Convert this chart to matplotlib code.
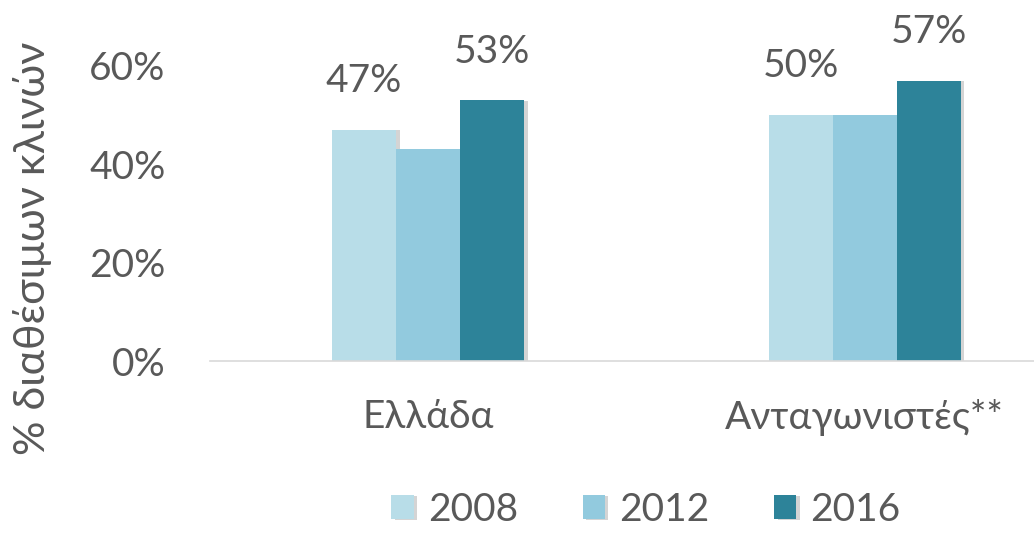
import numpy as np
import matplotlib.pyplot as plt
import matplotlib.patheffects as pe
from matplotlib.ticker import PercentFormatter

plt.rcParams['font.family'] = ['Lato', 'DejaVu Sans']

# bed occupancy share by region and year
categories = ["Ελλάδα", "Ανταγωνιστές**"]
years = ["2008", "2012", "2016"]
share_2008 = [0.47, 0.50]
share_2012 = [0.43, 0.50]
share_2016 = [0.53, 0.57]
# which bars carry a value label
show_label_2008 = [True, True]
show_label_2012 = [False, False]
show_label_2016 = [True, True]

colors = ["#b8dde8", "#92cade", "#2d8399"]
text_color = "#595959"
fs = 28

fig = plt.figure(figsize=(10.34, 5.35), dpi=100)
ax = fig.add_axes([210 / 1034, 1 - 361 / 535, 873 / 1034, 0.7 * 492 / 535])

x = np.arange(len(categories))
width = 0.147
series = [share_2008, share_2012, share_2016]
labels_on = [show_label_2008, show_label_2012, show_label_2016]

for i, (vals, yr, col, lab) in enumerate(zip(series, years, colors, labels_on)):
    bars = ax.bar(x + (i - 1) * width, vals, width, color=col, label=yr, zorder=2)
    for b in bars:
        b.set_path_effects([pe.SimplePatchShadow(offset=(2.5, -0.5), alpha=0.25,
                                                 shadow_rgbFace="#555555"),
                            pe.Normal()])
    for b, v, on in zip(bars, vals, lab):
        if on:
            ax.annotate(f"{v:.0%}", (b.get_x() + b.get_width() / 2, v),
                        xytext=(0, 22), textcoords="offset points",
                        ha="center", va="bottom", fontsize=fs, color=text_color)

ax.set_xlim(-0.5, 1.5)
ax.set_ylim(0, 0.7)
ax.set_yticks([0, 0.2, 0.4, 0.6])
ax.yaxis.set_major_formatter(PercentFormatter(1.0, decimals=0))
ax.set_xticks(x)
ax.set_xticklabels(categories)
ax.tick_params(length=0, labelsize=fs, colors=text_color)
ax.tick_params(axis="y", pad=32)
ax.tick_params(axis="x", pad=27)
for s in ["top", "right", "left"]:
    ax.spines[s].set_visible(False)
ax.spines["bottom"].set_color("#d9d9d9")
ax.spines["bottom"].set_linewidth(1.2)

fig.text(33 / 1034, 1 - 248 / 535, "% διαθέσιμων κλινών", rotation=90,
         ha="center", va="center", fontsize=31, color=text_color)

fig.legend(loc="center", bbox_to_anchor=(646 / 1034, 1 - 510 / 535), ncol=3,
           frameon=False, fontsize=fs, labelcolor=text_color,
           handlelength=0.57, handleheight=0.57, handletextpad=0.36, columnspacing=1.67)

fig.savefig("out.png", dpi=100)
